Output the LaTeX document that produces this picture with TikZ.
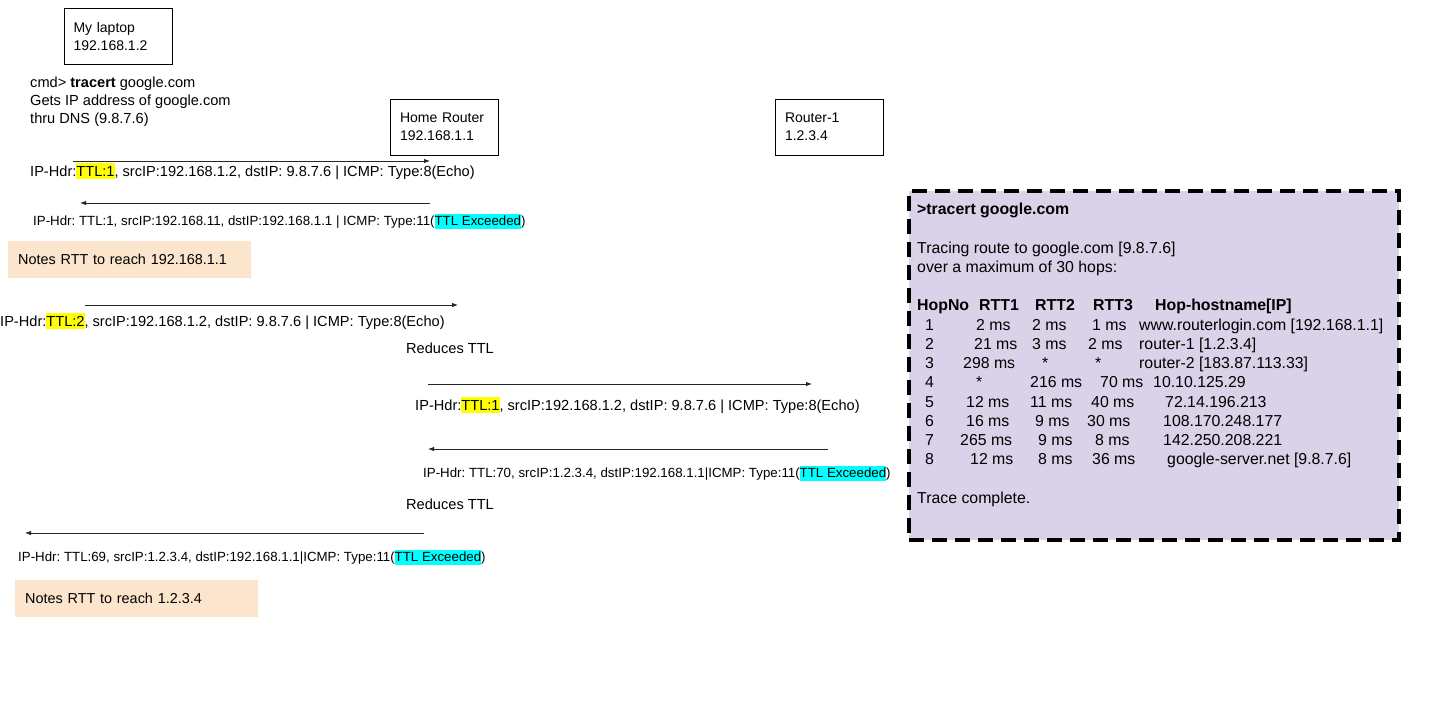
\documentclass[tikz,border=0pt]{standalone}
\usepackage{fontspec}
\setmainfont{Liberation Sans}
\frenchspacing
\usetikzlibrary{arrows.meta}
\definecolor{hlyellow}{HTML}{FFFF00}
\definecolor{hlcyan}{HTML}{00FFFF}
\definecolor{notefill}{HTML}{FCE5CD}
\definecolor{tracefill}{HTML}{D9D2E9}
\newcommand{\hly}[1]{{\fboxsep=0pt\colorbox{hlyellow}{\rule[-0.21em]{0pt}{1.1em}#1}}}
\newcommand{\hlc}[1]{{\fboxsep=0pt\colorbox{hlcyan}{\rule[-0.21em]{0pt}{1.1em}#1}}}
\tikzset{
  txt/.style={anchor=base west, inner sep=0pt, font=\fontsize{14.6}{18}\selectfont},
  smalltxt/.style={txt, font=\fontsize{13.3}{16}\selectfont},
  tracetxt/.style={txt, font=\fontsize{15.85}{19}\selectfont},
  tracehead/.style={txt, font=\fontsize{15.85}{19}\selectfont\bfseries},
  devbox/.style={draw, line width=0.8pt, inner xsep=9.5pt, inner ysep=0pt,
    text width=89pt, minimum height=56pt, align=left,
    font=\fontsize{14}{18}\selectfont},
  notebox/.style={fill=notefill, inner xsep=10pt, inner ysep=0pt,
    text width=223pt, minimum height=37pt, align=left, anchor=north west,
    font=\fontsize{14.4}{18}\selectfont},
  msgarrow/.style={draw=black!85, line width=0.9pt, -{Latex[length=6pt,width=4.5pt]}},
}

\begin{document}
\begin{tikzpicture}[x=1pt,y=-1pt]
    \useasboundingbox (0,0) rectangle (1441,721);

    \node[devbox] (laptop) at (118,36) {My laptop\\192.168.1.2};
    \node[devbox] (homerouter) at (444.5,127) {Home Router\\192.168.1.1};
    \node[devbox] (router1) at (829.5,127) {Router-1\\1.2.3.4};

    \node[txt] (cmd1) at (30,87) {cmd> \textbf{tracert} google.com};
    \node[txt] (cmd2) at (30,105) {Gets IP address of google.com};
    \node[txt] (cmd3) at (30,123) {thru DNS (9.8.7.6)};

    \foreach \n/\xa/\xb/\y in {1/73/430/161, 2/430/80/203, 3/85/458/305,
                               4/428/812/384, 5/828/428/449, 6/424/25/533} {
      \coordinate (a\n s) at (\xa,\y);
      \coordinate (a\n e) at (\xb,\y);
      \draw[msgarrow] (a\n s) -- (a\n e);
    }

    \node[txt] (msg1) at (30,176)
      {IP-Hdr:\hly{TTL:1}, srcIP:192.168.1.2, dstIP: 9.8.7.6 | ICMP: Type:8(Echo)};
    \node[smalltxt] (msg2) at (33,225.7)
      {IP-Hdr: TTL:1, srcIP:192.168.11, dstIP:192.168.1.1 | ICMP: Type:11(\hlc{TTL Exceeded})};
    \node[notebox] (note1) at (8,241) {Notes RTT to reach 192.168.1.1};
    \node[txt] (msg3) at (0,326)
      {IP-Hdr:\hly{TTL:2}, srcIP:192.168.1.2, dstIP: 9.8.7.6 | ICMP: Type:8(Echo)};
    \node[txt] (reduce1) at (406,353) {Reduces TTL};
    \node[txt] (msg4) at (415,410)
      {IP-Hdr:\hly{TTL:1}, srcIP:192.168.1.2, dstIP: 9.8.7.6 | ICMP: Type:8(Echo)};
    \node[smalltxt] (msg5) at (423,477.7)
      {IP-Hdr: TTL:70, srcIP:1.2.3.4, dstIP:192.168.1.1|ICMP: Type:11(\hlc{TTL Exceeded})};
    \node[txt] (reduce2) at (406,509) {Reduces TTL};
    \node[smalltxt] (msg6) at (18,561.7)
      {IP-Hdr: TTL:69, srcIP:1.2.3.4, dstIP:192.168.1.1|ICMP: Type:11(\hlc{TTL Exceeded})};
    \node[notebox] (note2) at (15,580) {Notes RTT to reach 1.2.3.4};

    \node[draw, line width=4pt, dash pattern=on 15pt off 8pt, fill=tracefill,
          minimum width=490pt, minimum height=349pt, inner sep=0pt,
          anchor=north west] (trace) at (907,189) {};
    \node[tracehead] (tcmd) at (917,214.65) {>tracert google.com};
    \node[tracetxt] (tline1) at (917,253.15) {Tracing route to google.com [9.8.7.6]};
    \node[tracetxt] (tline2) at (917,272.4) {over a maximum of 30 hops:};
    \node[tracehead] (hhop) at (917,310.9) {HopNo};
    \node[tracehead] (hrtta) at (979,310.9) {RTT1};
    \node[tracehead] (hrttb) at (1035,310.9) {RTT2};
    \node[tracehead] (hrttc) at (1093,310.9) {RTT3};
    \node[tracehead] (hhost) at (1155,310.9) {Hop-hostname[IP]};
    \foreach \h/\ra/\xa/\rb/\xb/\rc/\xc/\host/\xh in {
        1/2 ms/976/2 ms/1032/1 ms/1092/www.routerlogin.com [192.168.1.1]/1139,
        2/21 ms/974/3 ms/1032/2 ms/1088/router-1 [1.2.3.4]/1139,
        3/298 ms/963/*/1042/*/1095/router-2 [183.87.113.33]/1139,
        4/*/976/216 ms/1030/70 ms/1100/10.10.125.29/1153,
        5/12 ms/966/11 ms/1030/40 ms/1091/72.14.196.213/1165,
        6/16 ms/966/9 ms/1035/30 ms/1087/108.170.248.177/1163,
        7/265 ms/960/9 ms/1038/8 ms/1095/142.250.208.221/1163,
        8/12 ms/970/8 ms/1038/36 ms/1092/google-server.net [9.8.7.6]/1167} {
      \node[tracetxt] (hop\h) at (925,{310.9+\h*19.25}) {\h};
      \node[tracetxt] (rtta\h) at (\xa,{310.9+\h*19.25}) {\ra};
      \node[tracetxt] (rttb\h) at (\xb,{310.9+\h*19.25}) {\rb};
      \node[tracetxt] (rttc\h) at (\xc,{310.9+\h*19.25}) {\rc};
      \node[tracetxt] (host\h) at (\xh,{310.9+\h*19.25}) {\host};
    }
    \node[tracetxt] (tdone) at (917,503.4) {Trace complete.};
\end{tikzpicture}
\end{document}
